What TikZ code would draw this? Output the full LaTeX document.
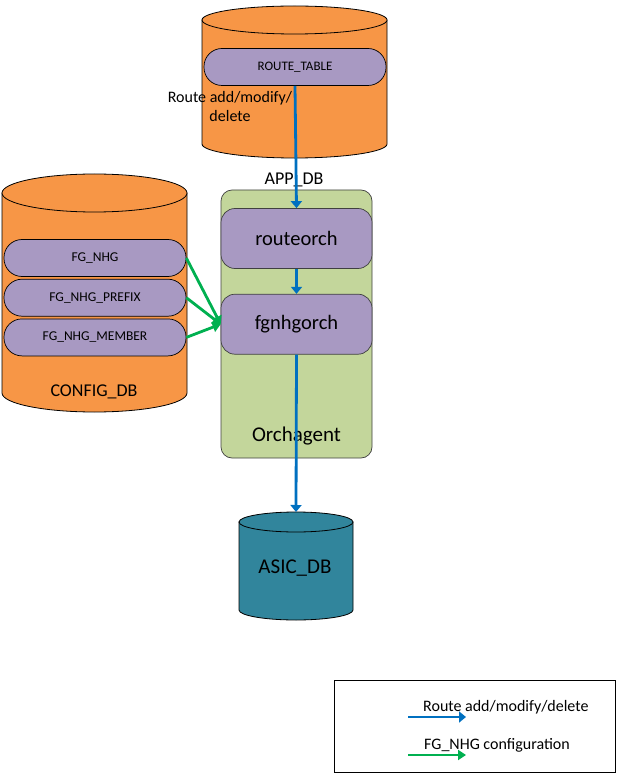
\documentclass[tikz,border=0pt]{standalone}
\usepackage{fontspec}
\setmainfont{Carlito}
\usetikzlibrary{arrows.meta,positioning,calc}
\definecolor{dbOrange}{HTML}{F79646}
\definecolor{tblPurple}{HTML}{A899C2}
\definecolor{agentGreen}{HTML}{C3D69B}
\definecolor{asicTeal}{HTML}{31859C}
\definecolor{routeBlue}{HTML}{0070C0}
\definecolor{cfgGreen}{HTML}{00B050}

\begin{document}
\begin{tikzpicture}[
    x=1pt, y=-1pt,
    cyl/.style={draw=black, line width=0.8pt},
    pill/.style={draw=black, fill=tblPurple, rounded corners=18pt, minimum width=182pt, minimum height=37pt, inner sep=0pt, line width=0.7pt, font=\fontsize{13.5}{16}\selectfont},
    orch/.style={draw=black!75, fill=tblPurple, rounded corners=14pt, minimum width=151pt, minimum height=60pt, inner sep=0pt, line width=0.7pt, font=\fontsize{20.5}{24}\selectfont},
    lbl/.style={inner sep=0pt, align=center},
    blueflow/.style={draw=routeBlue, line width=2.8pt, -{Triangle[length=7pt,width=11pt]}},
    greenflow/.style={draw=cfgGreen, line width=2.8pt, -{Triangle[length=8pt,width=10pt]}}
  ]
    \useasboundingbox (0,0) rectangle (618,775);

    % APP_DB
    \draw[cyl, fill=dbOrange] (202,20) -- (202,144) arc[start angle=180, end angle=0, x radius=92.5, y radius=14] -- (387,20) -- cycle;
    \draw[cyl, fill=dbOrange] (294.5,20) ellipse[x radius=92.5, y radius=14];
    \node[pill, font=\fontsize{13}{16}\selectfont] (routetable) at (295,67) {ROUTE\_TABLE};
    \node[lbl, font=\fontsize{16}{19}\selectfont] (routelbl) at (230,107) {Route add/modify/\\delete};
    \node[lbl, font=\fontsize{18}{21}\selectfont] (appdb) at (294,180) {APP\_DB};

    % CONFIG_DB
    \draw[cyl, fill=dbOrange] (2,193) -- (2,393) arc[start angle=180, end angle=0, x radius=92.5, y radius=19] -- (187,193) -- cycle;
    \draw[cyl, fill=dbOrange] (94.5,193) ellipse[x radius=92.5, y radius=19];
    \node[pill] (fgnhg) at (95,258) {FG\_NHG};
    \node[pill, below=2pt of fgnhg] (fgprefix) {FG\_NHG\_PREFIX};
    \node[pill, below=2pt of fgprefix] (fgmember) {FG\_NHG\_MEMBER};
    \node[lbl, font=\fontsize{18}{21}\selectfont] (configdb) at (94,392) {CONFIG\_DB};

    % Orchagent
    \node[draw=black!75, fill=agentGreen, rounded corners=11pt, line width=0.7pt, minimum width=151pt, minimum height=268pt] (orchagent) at (296.5,324) {};
    \node[orch] (routeorch) at (296.5,238.5) {routeorch};
    \node[orch, below=25pt of routeorch] (fgnhgorch) {fgnhgorch};
    \node[lbl, font=\fontsize{21}{24}\selectfont] (orchlbl) at (296.5,436) {Orchagent};

    % ASIC_DB
    \draw[cyl, fill=asicTeal] (239,522) -- (239,610) arc[start angle=180, end angle=0, x radius=57, y radius=10] -- (353,522) -- cycle;
    \draw[cyl, fill=asicTeal] (296,522) ellipse[x radius=57, y radius=10];
    \coordinate (asictop) at (296,512);
    \node[lbl, font=\fontsize{21}{24}\selectfont] (asicdb) at (295,568) {ASIC\_DB};

    % flows
    \draw[blueflow] (routetable.south) -- (routeorch.north);
    \draw[blueflow] (routeorch.south) -- (fgnhgorch.north);
    \draw[blueflow] (fgnhgorch.south) -- (asictop);
    \draw[greenflow] (fgnhg.east) -- (fgnhgorch.west);
    \draw[greenflow] (fgprefix.east) -- (fgnhgorch.west);
    \draw[greenflow] (fgmember.east) -- (fgnhgorch.west);

    % legend
    \node[draw=black, line width=0.8pt, minimum width=281pt, minimum height=92pt, inner sep=0pt] (legend) at (474.5,726) {};
    \coordinate (keyblueA) at (408,717);
    \coordinate (keyblueB) at (466,717);
    \coordinate (keygreenA) at (408,755);
    \coordinate (keygreenB) at (466,755);
    \draw[blueflow] (keyblueA) -- (keyblueB);
    \draw[greenflow] (keygreenA) -- (keygreenB);
    \node[lbl, anchor=west, font=\fontsize{16}{18}\selectfont] (keyroute) at (423,707) {Route add/modify/delete};
    \node[lbl, anchor=west, font=\fontsize{16}{18}\selectfont] (keycfg) at (424,745) {FG\_NHG configuration};
  \end{tikzpicture}
\end{document}
